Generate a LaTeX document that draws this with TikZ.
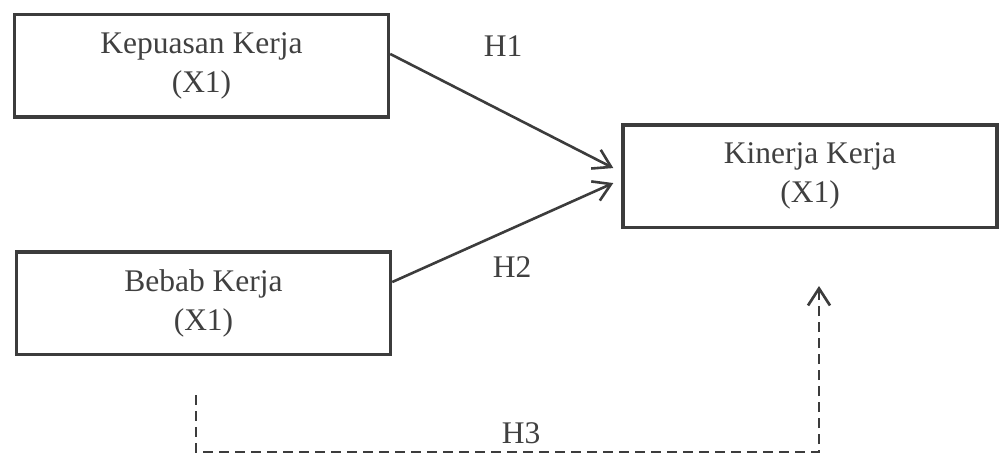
\documentclass[tikz,border=0pt]{standalone}
\usepackage{fontspec}
\setmainfont{Liberation Serif}
\usetikzlibrary{arrows.meta}
\definecolor{ink}{HTML}{3C3C3C}
\definecolor{txt}{HTML}{404040}
\tikzset{
  varbox/.style={draw=ink, line width=1.7pt, minimum width=187pt, minimum height=51.4pt,
    inner sep=0pt, align=center, text=txt, font=\fontsize{15.75}{19.5}\selectfont},
  hlabel/.style={anchor=base, text=txt, inner sep=0pt, font=\fontsize{15.75}{19.5}\selectfont},
  link/.style={draw=ink, line width=1.3pt, -{Straight Barb[length=8.5pt,width=10.5pt,line width=1.3pt]}},
  dlink/.style={draw=ink, line width=1.35pt, dash pattern=on 5pt off 3pt, -{Straight Barb[length=8.5pt,width=11pt,line width=1.35pt]}}
}
\begin{document}
\begin{tikzpicture}[x=0.5pt,y=-0.5pt]
\useasboundingbox (0,0) rectangle (1000,454);
\node[varbox] (kep) at (201.5,65.75) {Kepuasan Kerja\\(X1)};
\node[varbox] (beb) at (203.5,303.25) {Bebab Kerja\\(X1)};
\node[varbox] (kin) at (810,176.25) {Kinerja Kerja\\(X1)};
\draw[link] ([yshift=5.9pt]kep.east) -- ([xshift=-4pt,yshift=4.1pt]kin.west);
\draw[link] ([yshift=10.6pt]beb.east) -- ([xshift=-4pt,yshift=-3.4pt]kin.west);
\coordinate (d1) at (196,395);
\coordinate (d3) at (819,452);
\coordinate (tip3) at (819,286);
\draw[dlink] (d1) |- (d3) -- (tip3);
\node[hlabel] (h1) at (503,57) {H1};
\node[hlabel] (h2) at (512,278) {H2};
\node[hlabel] (h3) at (521,443) {H3};
\end{tikzpicture}
\end{document}
